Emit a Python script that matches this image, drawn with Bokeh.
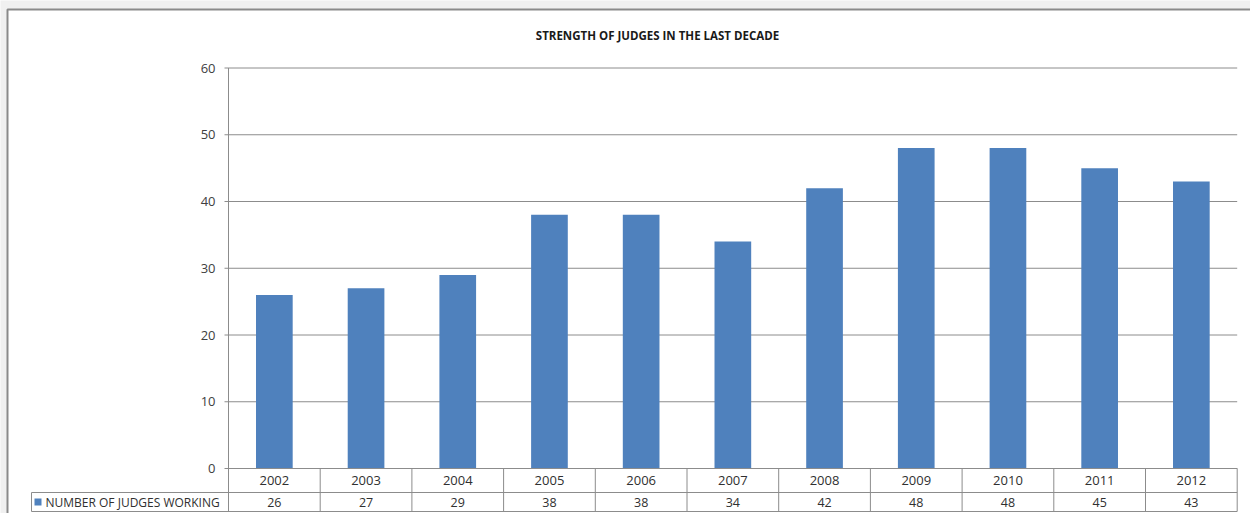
from bokeh.plotting import figure
from bokeh.models import Range1d
from bokeh.core.properties import value
from bokeh.embed import file_html
from bokeh.resources import INLINE

# ---- data ----
years = ["2002", "2003", "2004", "2005", "2006", "2007", "2008", "2009", "2010", "2011", "2012"]
judges = [26, 27, 29, 38, 38, 34, 42, 48, 48, 45, 43]
y_ticks = [0, 10, 20, 30, 40, 50, 60]
series_name = "NUMBER OF JUDGES WORKING"
title_text = "STRENGTH OF JUDGES IN THE LAST DECADE"

# ---- layout constants (pixels) ----
W, H = 1250, 513
X0_PX = 228.0          # plot left edge
CAT_PX = 91.7          # width of one category
Y0_PX = 468.0          # value 0
UNIT_PX = 6.675        # px per unit of value

def px2x(px):
    return (px - X0_PX) / CAT_PX

def px2y(py):
    return (Y0_PX - py) / UNIT_PX

n = len(years)
centers = [i + 0.5 for i in range(n)]

FONT = value("Open Sans")
BLUE = "#4f81bd"
GRID = "#8c8c8c"

p = figure(width=W, height=H, output_backend="svg", toolbar_location=None,
           x_range=Range1d(px2x(0), px2x(W)), y_range=Range1d(px2y(H), px2y(0)),
           x_axis_location=None, y_axis_location=None, min_border=0,
           background_fill_color="#f0f0f0", border_fill_color="#f0f0f0")
p.grid.visible = False
p.outline_line_color = None

# white chart area
p.quad(left=[px2x(7)], right=[px2x(W + 20)], top=[px2y(9)], bottom=[px2y(H + 20)],
       fill_color="white", line_color="#8a8a8a", line_width=2)

# gridlines
p.segment(x0=[px2x(X0_PX - 4)] * len(y_ticks), x1=[n] * len(y_ticks),
          y0=y_ticks, y1=y_ticks, line_color=GRID, line_width=1)
# axis line
p.segment(x0=[0], x1=[0], y0=[0], y1=[max(y_ticks)], line_color=GRID, line_width=1)

# y tick labels
p.text(x=[px2x(X0_PX - 13)] * len(y_ticks), y=y_ticks, text=[str(t) for t in y_ticks],
       text_align="right", text_baseline="middle", text_font=FONT,
       text_font_size="13px", text_color="#404040")

# bars
p.vbar(x=centers, top=judges, bottom=0, width=0.4, fill_color=BLUE, line_color=None)

# title
p.text(x=[px2x(657)], y=[px2y(35)], text=[title_text], text_align="center",
       text_baseline="middle", text_font=FONT, text_font_style="bold",
       text_font_size="11.5px", text_color="#1a1a1a")

# data table
row1_bottom = px2y(492)
row2_bottom = px2y(511)
legend_left = px2x(31)
# horizontal lines
p.segment(x0=[0, legend_left, legend_left], x1=[n, n, n],
          y0=[0, row1_bottom, row2_bottom], y1=[0, row1_bottom, row2_bottom],
          line_color=GRID, line_width=1)
# vertical lines
bounds = list(range(n + 1))
p.segment(x0=bounds, x1=bounds, y0=[0] * len(bounds), y1=[row2_bottom] * len(bounds),
          line_color=GRID, line_width=1)
p.segment(x0=[legend_left], x1=[legend_left], y0=[row1_bottom], y1=[row2_bottom],
          line_color=GRID, line_width=1)

# year labels
p.text(x=centers, y=[row1_bottom / 2] * n, text=years, text_align="center",
       text_baseline="middle", text_font=FONT, text_font_size="13px", text_color="#303030")
# values
p.text(x=centers, y=[(row1_bottom + row2_bottom) / 2] * n, text=[str(v) for v in judges],
       text_align="center", text_baseline="middle", text_font=FONT,
       text_font_size="12.5px", text_color="#303030")
# legend key
p.rect(x=[px2x(37.5)], y=[(row1_bottom + row2_bottom) / 2], width=7, height=7,
       width_units="screen", height_units="screen", fill_color=BLUE, line_color=None)
p.text(x=[px2x(45)], y=[(row1_bottom + row2_bottom) / 2], text=[series_name],
       text_align="left", text_baseline="middle", text_font=FONT,
       text_font_size="12px", text_color="#303030")

open("out.html", "w").write(file_html(p, INLINE))
